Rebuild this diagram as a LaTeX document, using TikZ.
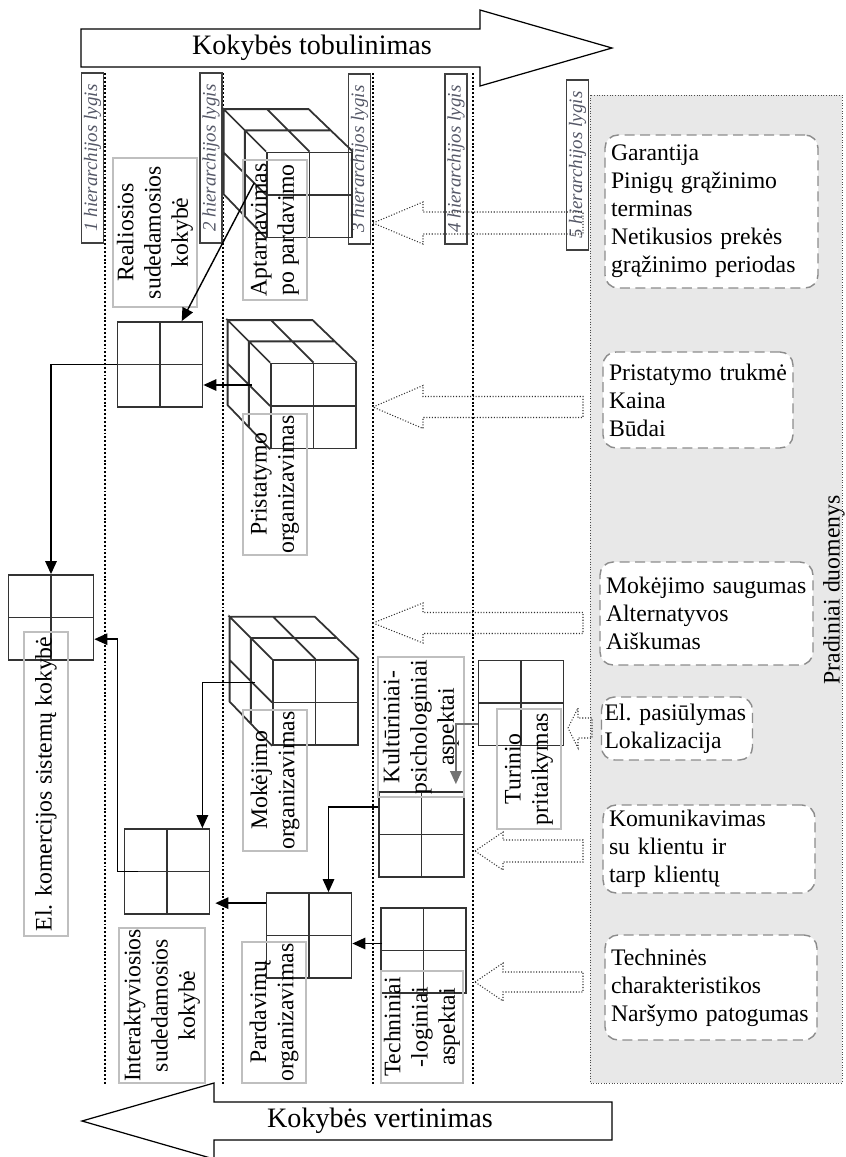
\documentclass[tikz,border=0pt]{standalone}
\usepackage{fontspec}
\setmainfont{Liberation Serif}
\usetikzlibrary{calc,arrows.meta}
\hyphenpenalty=10000
\definecolor{lvlcolor}{rgb}{0.33,0.34,0.40}
\definecolor{panelgray}{rgb}{0.91,0.91,0.91}
\tikzset{
  bigarrow/.style={draw=black, line width=0.7pt, fill=white},
  bigtxt/.style={font=\fontsize{16}{19}\selectfont},
  level/.style={draw=black!75, line width=1pt, rotate=90, minimum width=34mm, minimum height=4.4mm, inner sep=0pt, font=\fontsize{10.8}{12}\selectfont\itshape, text=lvlcolor},
  sep/.style={line width=1.2pt, dash pattern=on 1.1pt off 1.1pt},
  panel/.style={fill=panelgray, draw=black!70, line width=0.5pt, densely dotted},
  src/.style={draw=black!45, dash pattern=on 2mm off 1.1mm, line width=0.8pt, rounded corners=2.6mm, fill=white, align=left, inner xsep=1.2mm, inner ysep=0pt, font=\fontsize{13.5}{15.9}\selectfont},
  sq/.style={draw=black!80, line width=1pt, minimum size=17mm, inner sep=0pt, path picture={\draw[black!80, line width=1pt] (path picture bounding box.north) -- (path picture bounding box.south) (path picture bounding box.west) -- (path picture bounding box.east);}},
  cube/.style={draw=black!80, line width=1pt},
  lbl/.style={draw=black!25, line width=1pt, rotate=90, inner sep=0pt, align=center, font=\fontsize{13.5}{15.5}\selectfont},
  flow/.style={-{Triangle[length=2.6mm,width=2.3mm]}, line width=0.8pt},
  inflow/.style={draw=black!80, line width=0.6pt, densely dotted},
}
\newcommand{\cubefaces}[1]{%
  \draw[cube] (#1.north west) -- ++(-42.5,-42.5) -- ++(85,0) -- (#1.north east)
    (#1.north west) -- ++(-42.5,-42.5) -- ++(0,85) -- (#1.south west)
    ($(#1.north west)+(-21.25,-21.25)$) -- ++(85,0)
    ($(#1.north west)+(-21.25,-21.25)$) -- ++(0,85)
    (#1.north) -- ++(-42.5,-42.5)
    (#1.west) -- ++(-42.5,-42.5);}
\newcommand{\inarrow}[6]{%
  \draw[inflow] (#1,#2) -- (#3,#2-#6) -- (#3,#2-#5) -- (#4,#2-#5) -- (#4,#2+#5) -- (#3,#2+#5) -- (#3,#2+#6) -- cycle;}

\begin{document}
\begin{tikzpicture}[x=0.2mm,y=-0.2mm]
\useasboundingbox (0,0) rectangle (845,1157);
\draw[panel] (590,95) rectangle (842,1083);
\node[rotate=90, font=\fontsize{13.5}{15.9}\selectfont] (prad) at (834,590) {Pradiniai duomenys};
\foreach \x in {105,223,373,473}
  \draw[sep] (\x,73) -- (\x,1084);

\draw[bigarrow] (81,29) -- (480,29) -- (480,10) -- (612,48) -- (480,86) -- (480,67) -- (81,67) -- cycle;
\node[bigtxt] (impr) at (312,48) {Kokybės tobulinimas};
\draw[bigarrow] (612,1102) -- (214,1102) -- (214,1083) -- (82,1121) -- (214,1159) -- (214,1140) -- (612,1140) -- cycle;
\node[bigtxt] (eval) at (380,1121) {Kokybės vertinimas};

\node[level] (l1) at (92.5,158) {1 hierarchijos lygis};
\node[level] (l2) at (211,158) {2 hierarchijos lygis};
\node[level] (l3) at (359.5,159) {3 hierarchijos lygis};
\node[level] (l4) at (456,159) {4 hierarchijos lygis};
\node[level] (l5) at (577.5,165) {5 hierarchijos lygis};

\node[src, text width=40.2mm, minimum height=30.6mm] (gar) at (711.5,211.5) {Garantija\\Pinigų~grąžinimo\\terminas\\Netikusios~prekės\\grąžinimo~periodas};
\node[src, text width=35.6mm, minimum height=19.2mm] (pst) at (698,400) {Pristatymo~trukmė\\Kaina\\Būdai};
\node[src, text width=40.2mm, minimum height=20.6mm] (msg) at (706.5,613.5) {Mokėjimo~saugumas\\Alternatyvos\\Aiškumas};
\node[src, text width=29mm, inner xsep=0.6mm, minimum height=12.6mm] (elp) at (677,728.5) {El.~pasiūlymas\\Lokalizacija};
\node[src, text width=40mm, minimum height=17.6mm] (kom) at (709,849) {Komunikavimas\\su~klientu~ir\\tarp~klientų};
\node[src, text width=40mm, minimum height=21mm] (tch) at (711,987.5) {Techninės\\charakteristikos\\Naršymo~patogumas};

\inarrow{373}{223}{423}{583}{11}{21}
\inarrow{373}{407}{423}{583}{10.5}{21.5}
\inarrow{373}{623}{423}{583}{10.5}{20}
\inarrow{568}{728}{578}{592}{10}{20}
\inarrow{475}{851}{503}{583}{11}{19}
\inarrow{475}{982}{503}{583}{10}{19}

\node[sq] (A) at (51,617.5) {};
\node[sq] (B) at (160,364.5) {};
\node[sq] (C) at (167,871.5) {};
\node[sq] (D) at (313.5,406) {};
\node[sq] (E) at (309.5,195) {};
\node[sq] (F) at (315.5,702.5) {};
\node[sq] (G) at (521,703) {};
\node[sq] (H) at (421.5,834.5) {};
\node[sq] (I) at (423.5,950.5) {};
\node[sq] (J) at (309,935.5) {};
\cubefaces{D}
\cubefaces{E}
\cubefaces{F}

\node[lbl, minimum width=29.8mm, minimum height=16.8mm] (real) at (155,232.5) {Realiosios\\sudedamosios\\kokybė};
\node[lbl, minimum width=28mm, minimum height=12.8mm] (apt) at (275,230) {Aptarnavimas\\po pardavimo};
\node[lbl, minimum width=28.2mm, minimum height=12.8mm] (pris) at (275,484.5) {Pristatymo\\organizavimas};
\node[lbl, minimum width=28.2mm, minimum height=12.8mm] (mok) at (275,780.5) {Mokėjimo\\organizavimas};
\node[lbl, minimum width=31mm, minimum height=17.2mm] (inter) at (162,1005.5) {Interaktyviosios\\sudedamosios\\kokybė};
\node[lbl, minimum width=28.2mm, minimum height=12.8mm] (pard) at (274,1012.5) {Pardavimų\\organizavimas};
\node[lbl, minimum width=22.4mm, minimum height=16.4mm] (tech) at (422,1027) {Techniniai\\-loginiai\\aspektai};
\node[lbl, minimum width=28mm, minimum height=17.2mm] (kult) at (421,727) {Kultūriniai-\\psichologiniai\\aspektai};
\node[lbl, minimum width=24mm, minimum height=12.8mm] (tur) at (529,769) {Turinio\\pritaikymas};
\node[lbl, minimum width=60.8mm, minimum height=8.8mm] (el) at (46,784) {El. komercijos sistemų kokybė};

\coordinate (eL) at ($(E.west)+(-12,-12)$);
\draw[flow] (eL) -- ($(B.north)!0.5!(B.north east)$);
\coordinate (dL) at ($(D.west)+(-18,-21)$);
\draw[flow] (dL) -- (dL -| B.east);
\draw[flow] (B.west) -| (A.north);
\draw[flow] ($(C.west)+(14,0)$) -- ++(-20,0) |- ($(A.east)!0.5!(A.south east)$);
\coordinate (fL) at ($(F.west)+(-17,-20)$);
\draw[flow] (fL) -| ($(C.north east)+(-8,0)$);
\coordinate (jW) at ($(J.north west)+(0,11)$);
\draw[flow, shorten >=1mm] (jW) -- (jW -| C.east);
\coordinate (hW) at ($(H.north west)+(0,16)$);
\draw[flow] (hW) -| ($(J.north)!0.45!(J.north east)$);
\coordinate (iW) at ($(I.west)+(2,-7)$);
\draw[flow] (iW) -- (iW -| J.east);
\coordinate (gW) at ($(G.west)+(0,21)$);
\draw[flow, draw=black!55, shorten >=1.4mm] (gW) -| ($(H.north east)+(-9,0)$);
\end{tikzpicture}
\end{document}
